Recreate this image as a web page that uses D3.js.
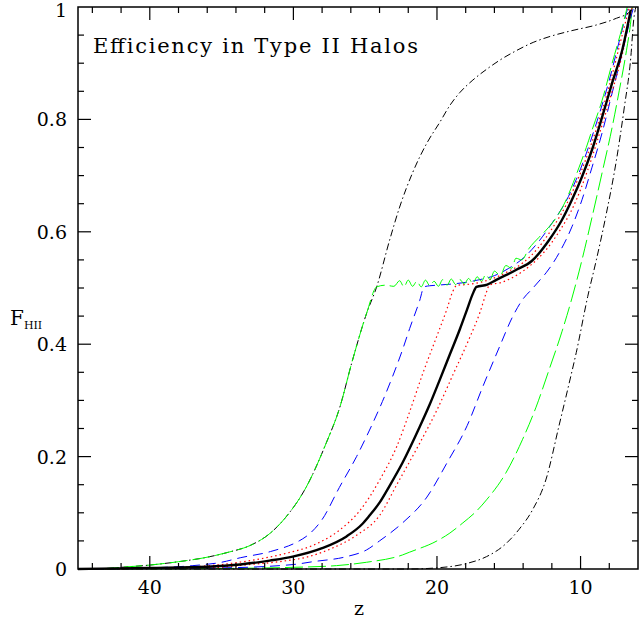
<!DOCTYPE html>
<html>
<head>
<meta charset="utf-8">
<script src="https://cdn.jsdelivr.net/npm/d3@7"></script>
<style>
  body { margin: 0; background: #fff; }
  svg text { font-family: "DejaVu Serif", serif; fill: #000; }
</style>
</head>
<body>
<svg id="chart" width="639" height="619"></svg>
<script>
// redshift ticks and F_HII ticks
var zTicks = [40, 30, 20, 10];
var fTicks = [0, 0.2, 0.4, 0.6, 0.8, 1];

// each series: [z, F_HII] pairs
var blackHi = [[45,0],[43,0.001],[42,0.003],[40,0.007],[38,0.013],[36,0.021],[34.5,0.03],[33,0.042],[31.6,0.064],[30.5,0.093],[29.1,0.146],[27.7,0.225],[26.8,0.285],[25.9,0.37],[24.9,0.455],[24.2,0.502],[23.3,0.585],[22.6,0.644],[21.7,0.705],[20.7,0.758],[19.8,0.795],[19.1,0.825],[18.4,0.848],[17.5,0.87],[16.5,0.89],[15.65,0.905],[14.5,0.922],[13.3,0.937],[12.2,0.947],[10.6,0.958],[8.9,0.968],[7.5,0.98],[6.6,0.991],[6.3,1]];
var greenHi = [[45,0],[43,0.001],[42,0.003],[40,0.007],[38,0.013],[36,0.021],[34.5,0.03],[33,0.042],[31.6,0.064],[30.5,0.093],[29.1,0.146],[27.7,0.225],[26.8,0.285],[25.9,0.37],[24.9,0.455],[24.2,0.502],[23.6,0.505],[23,0.503],[22.6,0.513],[22.3,0.502],[22,0.514],[21.7,0.503],[21.4,0.512],[21.1,0.502],[20.8,0.514],[20.5,0.504],[20.2,0.512],[19.9,0.503],[19.6,0.515],[19.3,0.505],[19,0.516],[18.7,0.506],[18.4,0.515],[18.1,0.507],[17.8,0.517],[17.5,0.508],[17.2,0.52],[16.9,0.512],[16.6,0.524],[16.3,0.515],[16,0.53],[15.6,0.522],[15.2,0.54],[14.8,0.535],[14.5,0.553],[14.1,0.55],[13.6,0.57],[12.9,0.59],[12.4,0.603],[11.7,0.625],[11,0.657],[10.5,0.688],[10.1,0.715],[9.6,0.75],[9.2,0.781],[8.5,0.834],[7.8,0.9],[7.1,0.964],[6.75,1]];
var blueA = [[45,0],[40,0.002],[37,0.006],[35,0.012],[33.7,0.02],[31.6,0.031],[29.6,0.05],[29.1,0.058],[28,0.088],[26.8,0.145],[25.6,0.2],[24.5,0.258],[23.8,0.298],[23.1,0.342],[22.4,0.39],[21.9,0.428],[21.2,0.478],[20.9,0.502],[20.5,0.504],[20,0.505],[19,0.507],[18,0.51],[17,0.515],[16,0.522],[15,0.535],[14,0.553],[13,0.58],[12,0.615],[11,0.655],[10,0.712],[9,0.785],[8,0.87],[7.2,0.95],[6.7,1]];
var redA = [[45,0],[38,0.003],[35,0.008],[33,0.015],[30.5,0.028],[28.65,0.042],[26.8,0.069],[25.4,0.103],[24.7,0.128],[24,0.158],[22.8,0.218],[21.9,0.28],[21,0.347],[20,0.415],[19.3,0.463],[18.9,0.494],[18.6,0.505],[18,0.506],[17,0.51],[16,0.518],[15,0.53],[14,0.545],[13,0.57],[12,0.605],[11,0.648],[10,0.705],[9,0.775],[8,0.86],[7.2,0.94],[6.6,1]];
var blackMid = [[45,0],[40,0.002],[36,0.004],[33.7,0.008],[31.65,0.015],[30.05,0.022],[28,0.037],[26.3,0.058],[25.2,0.08],[24.7,0.095],[24,0.118],[23.3,0.148],[22.4,0.189],[21.2,0.253],[20.5,0.293],[19.8,0.337],[19.1,0.382],[18.4,0.427],[17.9,0.462],[17.5,0.49],[17.25,0.502],[16.5,0.506],[15.9,0.514],[14.5,0.532],[13.4,0.548],[12.2,0.585],[11.3,0.621],[10.6,0.657],[9.9,0.698],[9.2,0.746],[8.5,0.804],[7.8,0.865],[7.1,0.923],[6.5,0.995]];
var redB = [[45,0],[36,0.002],[33,0.008],[31,0.013],[29.1,0.021],[27.3,0.037],[25.6,0.06],[24,0.095],[22.8,0.15],[21.2,0.224],[20,0.283],[18.9,0.345],[17.7,0.413],[17,0.457],[16.6,0.489],[16.35,0.505],[15.5,0.51],[14.5,0.522],[13.5,0.54],[12.5,0.565],[11.5,0.6],[10.5,0.645],[9.5,0.71],[8.5,0.79],[7.8,0.85],[7.1,0.915],[6.5,0.99],[6.4,1]];
var blueB = [[45,0],[35,0.002],[30,0.008],[28.65,0.013],[26.3,0.022],[24.9,0.034],[24,0.05],[22.4,0.082],[20.7,0.128],[19.3,0.189],[17.9,0.255],[16.8,0.325],[15.65,0.395],[14.75,0.448],[14.05,0.479],[13.35,0.499],[12.8,0.515],[12.4,0.527],[11.5,0.562],[10.6,0.609],[9.9,0.657],[9.2,0.715],[8.5,0.776],[7.8,0.847],[7.1,0.918],[6.5,0.982],[6.3,1]];
var greenB = [[45,0],[35,0.001],[30,0.003],[27,0.006],[24.9,0.012],[22.4,0.025],[21.9,0.03],[20,0.05],[19.1,0.064],[18.2,0.082],[17.25,0.103],[16.55,0.123],[15.2,0.171],[14.05,0.23],[13.1,0.288],[12.2,0.354],[11.3,0.422],[10.6,0.482],[9.9,0.55],[9.2,0.626],[8.5,0.705],[7.8,0.786],[7.3,0.852],[6.8,0.923],[6.5,0.975],[6.4,1]];
var blackB = [[45,0],[22,0],[20,0.002],[17.9,0.01],[16.55,0.022],[15.2,0.045],[14.3,0.07],[13.35,0.105],[12.4,0.16],[11.5,0.255],[10.8,0.33],[10.3,0.385],[9.5,0.485],[8.9,0.55],[8.2,0.633],[7.5,0.728],[6.95,0.822],[6.5,0.911],[6.3,0.977],[6.15,1]];

(function() {
  var styles = [
    { data: blackB,   color: '#000',    width: 1,   dash: '7,3,1.5,3' },
    { data: greenB,   color: '#00ff00', width: 1,   dash: '18,5' },
    { data: blueB,    color: '#0000ff', width: 1,   dash: '10,6' },
    { data: redB,     color: '#ff0000', width: 1.2, dash: '1.5,3' },
    { data: redA,     color: '#ff0000', width: 1.2, dash: '1.5,3' },
    { data: blueA,    color: '#0000ff', width: 1,   dash: '10,6' },
    { data: blackHi,  color: '#000',    width: 1,   dash: '7,3,1.5,3' },
    { data: greenHi,  color: '#00ff00', width: 1,   dash: '18,5' },
    { data: blackMid, color: '#000',    width: 2.4, dash: null }
  ];

  var x0 = 78, x1 = 638, y0 = 569, y1 = 7;
  var svg = d3.select('#chart');
  var x = d3.scaleLinear().domain([45, 6]).range([x0, x1]);
  var y = d3.scaleLinear().domain([0, 1]).range([y0, y1]);

  var line = d3.line().x(function(d) { return x(d[0]); }).y(function(d) { return y(d[1]); }).curve(d3.curveMonotoneX);
  var plot = svg.append('g');
  styles.forEach(function(s) {
    plot.append('path').datum(s.data)
      .attr('d', line)
      .attr('fill', 'none')
      .attr('stroke', s.color)
      .attr('stroke-width', s.width)
      .attr('stroke-dasharray', s.dash);
  });

  // frame
  svg.append('rect').attr('x', x0).attr('y', y1).attr('width', x1 - x0).attr('height', y0 - y1)
    .attr('fill', 'none').attr('stroke', '#000').attr('stroke-width', 1.5);

  // ticks, inward on all four sides
  var ticks = svg.append('g').attr('stroke', '#000').attr('stroke-width', 1.2);
  d3.range(44, 6, -2).forEach(function(z) {
    var len = z % 10 === 0 ? 13 : 6;
    ticks.append('line').attr('x1', x(z)).attr('x2', x(z)).attr('y1', y0).attr('y2', y0 - len);
    ticks.append('line').attr('x1', x(z)).attr('x2', x(z)).attr('y1', y1).attr('y2', y1 + len);
  });
  d3.range(1, 20).forEach(function(i) {
    var f = i * 0.05;
    var len = i % 4 === 0 ? 13 : 6;
    ticks.append('line').attr('x1', x0).attr('x2', x0 + len).attr('y1', y(f)).attr('y2', y(f));
    ticks.append('line').attr('x1', x1).attr('x2', x1 - len).attr('y1', y(f)).attr('y2', y(f));
  });

  // tick labels
  svg.append('g').selectAll('text').data(zTicks).enter().append('text')
    .attr('x', function(d) { return x(d); }).attr('y', 594)
    .attr('text-anchor', 'middle').attr('font-size', 19)
    .text(function(d) { return d; });
  svg.append('g').selectAll('text').data(fTicks).enter().append('text')
    .attr('x', 67).attr('y', function(d) { return Math.max(y(d), 10) + 7; })
    .attr('text-anchor', 'end').attr('font-size', 19)
    .text(function(d) { return d; });

  // axis titles
  svg.append('text').attr('x', 359).attr('y', 615).attr('text-anchor', 'middle').attr('font-size', 19).text('z');
  var yl = svg.append('text').attr('x', 10).attr('y', 325).attr('font-size', 20);
  yl.append('tspan').text('F');
  yl.append('tspan').attr('font-size', 11).attr('dy', 4).text('HII');

  svg.append('text').attr('x', 93).attr('y', 53).attr('font-size', 21)
    .attr('textLength', 325).attr('lengthAdjust', 'spacing')
    .text('Efficiency in Type II Halos');
})();
</script>
</body>
</html>
